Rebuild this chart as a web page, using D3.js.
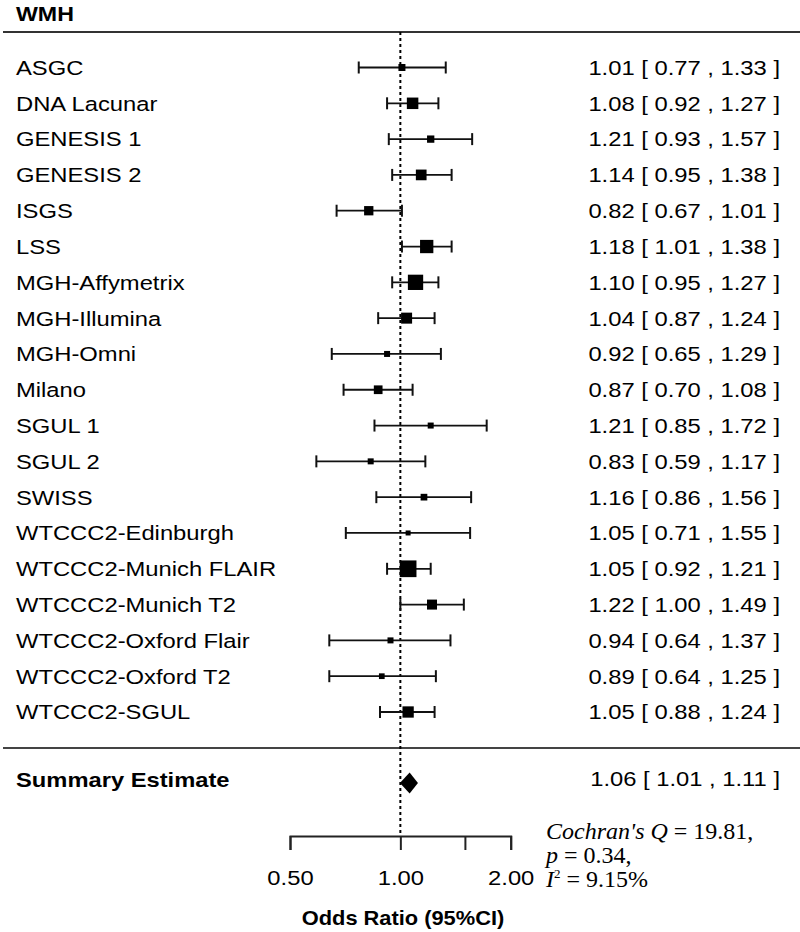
<!DOCTYPE html>
<html>
<head>
<meta charset="utf-8">
<script src="https://cdn.jsdelivr.net/npm/d3@7"></script>
<style>
  body { margin: 0; background: #fff; }
  svg text { font-family: "Liberation Sans", Arial, sans-serif; fill: #000; }
</style>
</head>
<body>
<svg id="viewer" width="800" height="932"></svg>
<script>
// study rows, top to bottom
const studies = ["ASGC", "DNA Lacunar", "GENESIS 1", "GENESIS 2", "ISGS", "LSS",
  "MGH-Affymetrix", "MGH-Illumina", "MGH-Omni", "Milano", "SGUL 1", "SGUL 2", "SWISS",
  "WTCCC2-Edinburgh", "WTCCC2-Munich FLAIR", "WTCCC2-Munich T2",
  "WTCCC2-Oxford Flair", "WTCCC2-Oxford T2", "WTCCC2-SGUL"];
const estimate = [1.01, 1.08, 1.21, 1.14, 0.82, 1.18, 1.10, 1.04, 0.92, 0.87, 1.21, 0.83, 1.16, 1.05, 1.05, 1.22, 0.94, 0.89, 1.05];
const lower    = [0.77, 0.92, 0.93, 0.95, 0.67, 1.01, 0.95, 0.87, 0.65, 0.70, 0.85, 0.59, 0.86, 0.71, 0.92, 1.00, 0.64, 0.64, 0.88];
const upper    = [1.33, 1.27, 1.57, 1.38, 1.01, 1.38, 1.27, 1.24, 1.29, 1.08, 1.72, 1.17, 1.56, 1.55, 1.21, 1.49, 1.37, 1.25, 1.24];
// relative study weight (box size)
const weight   = [7, 11.5, 7.3, 10.7, 9.3, 13.3, 15.3, 11, 6, 8.7, 6, 6, 6.7, 5, 16.7, 10, 6, 5.7, 11.3];

const summaryLabel = "Summary Estimate";
const summary = [1.06, 1.01, 1.11]; // est, lo, hi
const tickValues = [0.5, 1, 1.5, 2];
const tickLabels = ["0.50", "1.00", "", "2.00"];
const stats = { Q: "19.81", p: "0.34", I2: "9.15%" };

let fmt = d3.format(".2f");
let STRETCH = 1.16; // the original type is a bit wider than Arial

let svg = d3.select("#viewer");

// widen a text horizontally, keeping its anchor x in place
function stretch(sel, x, s) {
  sel.attr("transform", "translate(" + (x * (1 - s)) + ",0) scale(" + s + ",1)");
}

let x = d3.scaleLog()
  .domain([0.5, 2])
  .range([290, 510.7]);

let y = d3.scaleLinear()
  .domain([0, studies.length - 1])
  .range([67.5, 712]);

let boxSize = d3.scaleLinear()
  .domain([0, d3.max(weight)])
  .range([0, 16.7]);

let axisY = 836;
let summaryY = 779;

// title + rules
svg.append("text")
  .attr("x", 16).attr("y", 21)
  .attr("font-size", 20).attr("font-weight", "bold")
  .text("WMH")
  .call(stretch, 16, STRETCH);

svg.append("line")
  .attr("x1", 3).attr("x2", 800).attr("y1", 32).attr("y2", 32)
  .attr("stroke", "#333").attr("stroke-width", 2);

svg.append("line")
  .attr("x1", 3).attr("x2", 800).attr("y1", 748).attr("y2", 748)
  .attr("stroke", "#444").attr("stroke-width", 2);

// null line
svg.append("line")
  .attr("x1", x(1)).attr("x2", x(1))
  .attr("y1", 32).attr("y2", axisY)
  .attr("stroke", "#000").attr("stroke-width", 2)
  .attr("stroke-dasharray", "3,3");

let rows = svg.append("g").selectAll("g")
  .data(studies)
  .join("g")
  .attr("transform", (d, i) => "translate(0," + y(i) + ")");

rows.append("text")
  .attr("x", 16).attr("dy", "0.36em")
  .attr("font-size", 20.5)
  .text(d => d)
  .call(stretch, 16, STRETCH);

rows.append("text")
  .attr("x", 780).attr("dy", "0.36em")
  .attr("font-size", 20.5).attr("text-anchor", "end")
  .text((d, i) => fmt(estimate[i]) + " [ " + fmt(lower[i]) + " , " + fmt(upper[i]) + " ]")
  .call(stretch, 780, STRETCH);

// CI whiskers
rows.append("line")
  .attr("x1", (d, i) => x(lower[i])).attr("x2", (d, i) => x(upper[i]))
  .attr("stroke", "#111").attr("stroke-width", 1.8);

rows.append("line")
  .attr("x1", (d, i) => x(lower[i])).attr("x2", (d, i) => x(lower[i]))
  .attr("y1", -6).attr("y2", 6)
  .attr("stroke", "#111").attr("stroke-width", 2);

rows.append("line")
  .attr("x1", (d, i) => x(upper[i])).attr("x2", (d, i) => x(upper[i]))
  .attr("y1", -6).attr("y2", 6)
  .attr("stroke", "#111").attr("stroke-width", 2);

rows.append("rect")
  .attr("x", (d, i) => x(estimate[i]) - boxSize(weight[i]) / 2)
  .attr("y", (d, i) => -boxSize(weight[i]) / 2)
  .attr("width", (d, i) => boxSize(weight[i]))
  .attr("height", (d, i) => boxSize(weight[i]))
  .attr("fill", "#000");

// summary row
svg.append("text")
  .attr("x", 16).attr("y", summaryY).attr("dy", "0.36em")
  .attr("font-size", 21).attr("font-weight", "bold")
  .text(summaryLabel)
  .call(stretch, 16, 1.13);

svg.append("text")
  .attr("x", 780).attr("y", summaryY).attr("dy", "0.36em")
  .attr("font-size", 20.5).attr("text-anchor", "end")
  .text(fmt(summary[0]) + " [ " + fmt(summary[1]) + " , " + fmt(summary[2]) + " ]")
  .call(stretch, 780, STRETCH);

let dy = summaryY + 4;
svg.append("polygon")
  .attr("points", [
    [x(summary[1]) - 2, dy], [x(summary[0]), dy - 10.5],
    [x(summary[2]) + 1, dy], [x(summary[0]), dy + 10.5]
  ].map(p => p.join(",")).join(" "))
  .attr("fill", "#000");

// axis
let xAxis = d3.axisBottom(x)
  .tickValues(tickValues)
  .tickFormat((d, i) => tickLabels[i])
  .tickSize(14)
  .tickPadding(20);

let ax = svg.append("g")
  .attr("transform", "translate(0," + axisY + ")")
  .call(xAxis);
ax.select(".domain").attr("stroke", "#222").attr("stroke-width", 2);
ax.selectAll(".tick line").attr("stroke", "#222").attr("stroke-width", 2);
ax.selectAll(".tick text")
  .attr("font-size", 20.5)
  .attr("font-family", "Liberation Sans, Arial, sans-serif")
  .attr("fill", "#000")
  .call(stretch, 0, STRETCH);

svg.append("text")
  .attr("x", 403).attr("y", 925)
  .attr("font-size", 21).attr("font-weight", "bold")
  .attr("text-anchor", "middle")
  .text("Odds Ratio (95%CI)")
  .call(stretch, 403, 1.04);

// heterogeneity stats
let st = svg.append("g")
  .attr("transform", "translate(546,0)")
  .attr("font-size", 24);

let l1 = st.append("text").attr("x", 0).attr("y", 839).style("font-family", "Liberation Serif, serif");
l1.append("tspan").attr("font-style", "italic").text("Cochran's Q");
l1.append("tspan").text(" = " + stats.Q + ",");

let l2 = st.append("text").attr("x", 0).attr("y", 863).style("font-family", "Liberation Serif, serif");
l2.append("tspan").attr("font-style", "italic").text("p");
l2.append("tspan").text(" = " + stats.p + ",");

let l3 = st.append("text").attr("x", 0).attr("y", 887).style("font-family", "Liberation Serif, serif");
l3.append("tspan").attr("font-style", "italic").text("I");
l3.append("tspan").attr("font-size", 13).attr("dy", -9).text("2");
l3.append("tspan").attr("dy", 9).text(" = " + stats.I2);
</script>
</body>
</html>
